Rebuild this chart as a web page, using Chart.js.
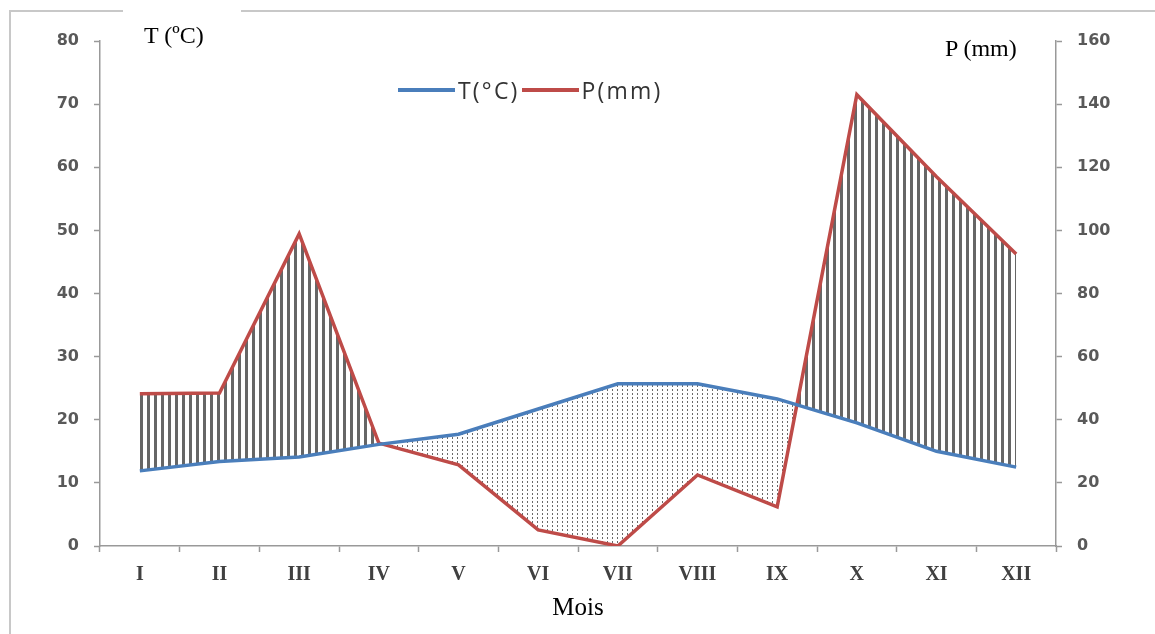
<!DOCTYPE html>
<html>
<head>
<meta charset="utf-8">
<script src="https://cdn.jsdelivr.net/npm/chart.js@4/dist/chart.umd.min.js"></script>
<style>
  body { margin: 0; background: #fff; }
  #wrap { position: relative; width: 1155px; height: 634px; }
  #frame { position: absolute; left: 9px; top: 10px; width: 1145px; height: 630px; border: 2px solid #c8c8c8; border-right: none; border-bottom: none; }
  #gap { position: absolute; left: 123px; top: 8px; width: 118px; height: 6px; background: #fff; }
  .lbl { position: absolute; font-family: "Liberation Serif", "Times New Roman", serif; font-size: 24px; color: #000; }
  #legend { position: absolute; left: 398px; top: 71px; font-family: "Open Sans", "Liberation Sans", sans-serif; font-size: 23px; letter-spacing: 2.2px; color: #333; white-space: nowrap; }
  #legend span.sw { display: inline-block; width: 57px; height: 4px; vertical-align: middle; margin-right: 3px; }
  #legend span.tx { vertical-align: middle; margin-right: 2px; }
  canvas { position: absolute; left: 0; top: 0; }
</style>
</head>
<body>
<div id="wrap">
  <canvas id="myChart" width="1155" height="634"></canvas>
  <div id="frame"></div>
  <div id="gap"></div>
  <div class="lbl" style="left:144px;top:22px;">T (ºC)</div>
  <div class="lbl" style="left:945px;top:35px;">P (mm)</div>
  <div id="legend"></div>
</div>
<script>
var mois = ["I", "II", "III", "IV", "V", "VI", "VII", "VIII", "IX", "X", "XI", "XII"];
var temperature = [11.9, 13.4, 14.1, 16.1, 17.7, 21.7, 25.7, 25.7, 23.3, 19.5, 15.0, 12.5];
var precipitation = [48.2, 48.5, 98.9, 32.6, 25.7, 5.1, 0, 22.5, 12.4, 143.0, 117.0, 92.5];
var tTicks = [0, 10, 20, 30, 40, 50, 60, 70, 80];
var pTicks = [0, 20, 40, 60, 80, 100, 120, 140, 160];

var blue = "#4a7ebb";
var red = "#be4b48";

function makePattern(ctx, w, h, draw) {
  var tile = document.createElement("canvas");
  tile.width = w;
  tile.height = h;
  draw(tile.getContext("2d"));
  return ctx.createPattern(tile, "repeat");
}

var ctx = document.getElementById("myChart").getContext("2d");

// humid months: vertical hatching
var hatch = makePattern(ctx, 7, 10, function (c) {
  c.fillStyle = "#666";
  c.fillRect(0, 0, 3, 10);
});
// dry months: dots
var dots = makePattern(ctx, 5, 4, function (c) {
  c.fillStyle = "rgba(80,80,80,0.85)";
  c.fillRect(2, 1, 1, 2);
});

var tickFont = { family: "DejaVu Sans", size: 16, weight: "bold" };

var chart = new Chart(ctx, {
  type: "line",
  data: {
    labels: mois,
    datasets: [{
      label: "T(°C)",
      data: temperature,
      borderColor: blue,
      borderWidth: 3.5,
      pointRadius: 0,
      tension: 0,
      fill: false,
      yAxisID: "y"
    }, {
      label: "P(mm)",
      data: precipitation,
      borderColor: red,
      borderWidth: 3.5,
      pointRadius: 0,
      tension: 0,
      fill: { target: 0, above: hatch, below: dots },
      yAxisID: "y1"
    }]
  },
  options: {
    responsive: false,
    animation: false,
    layout: { padding: { top: 41, left: 0, right: 0, bottom: 0 } },
    plugins: {
      legend: { display: false },
      tooltip: { enabled: false }
    },
    scales: {
      x: {
        offset: true,
        grid: { offset: true, drawOnChartArea: false, color: "#999", tickLength: 6, tickWidth: 1.5 },
        border: { color: "#999", width: 1.5 },
        ticks: { color: "#404040", padding: 11, font: { family: "Liberation Serif", size: 20, weight: "bold" } },
        title: { display: true, text: "Mois", color: "#000", padding: { top: 0, bottom: 11 }, font: { family: "Liberation Serif", size: 25 } },
        afterFit: function (s) { s.height = 88; }
      },
      y: {
        position: "left",
        min: 0,
        max: 80,
        afterBuildTicks: function (s) { s.ticks = tTicks.map(function (v) { return { value: v }; }); },
        grid: { drawOnChartArea: false, color: "#999", tickLength: 6, tickWidth: 1.5 },
        border: { color: "#999", width: 1.5 },
        ticks: { color: "#595959", padding: 15, font: tickFont },
        afterFit: function (s) { s.width = 100; }
      },
      y1: {
        position: "right",
        min: 0,
        max: 160,
        afterBuildTicks: function (s) { s.ticks = pTicks.map(function (v) { return { value: v }; }); },
        grid: { drawOnChartArea: false, color: "#999", tickLength: 6, tickWidth: 1.5 },
        border: { color: "#999", width: 1.5 },
        ticks: { color: "#595959", padding: 15, font: tickFont },
        afterFit: function (s) { s.width = 99; }
      }
    }
  }
});

// HTML legend
var legendBox = document.getElementById("legend");
var html = "";
chart.data.datasets.forEach(function (ds) {
  html += '<span class="sw" style="background:' + ds.borderColor + '"></span><span class="tx">' + ds.label + "</span>";
});
legendBox.innerHTML = html;
</script>
</body>
</html>
